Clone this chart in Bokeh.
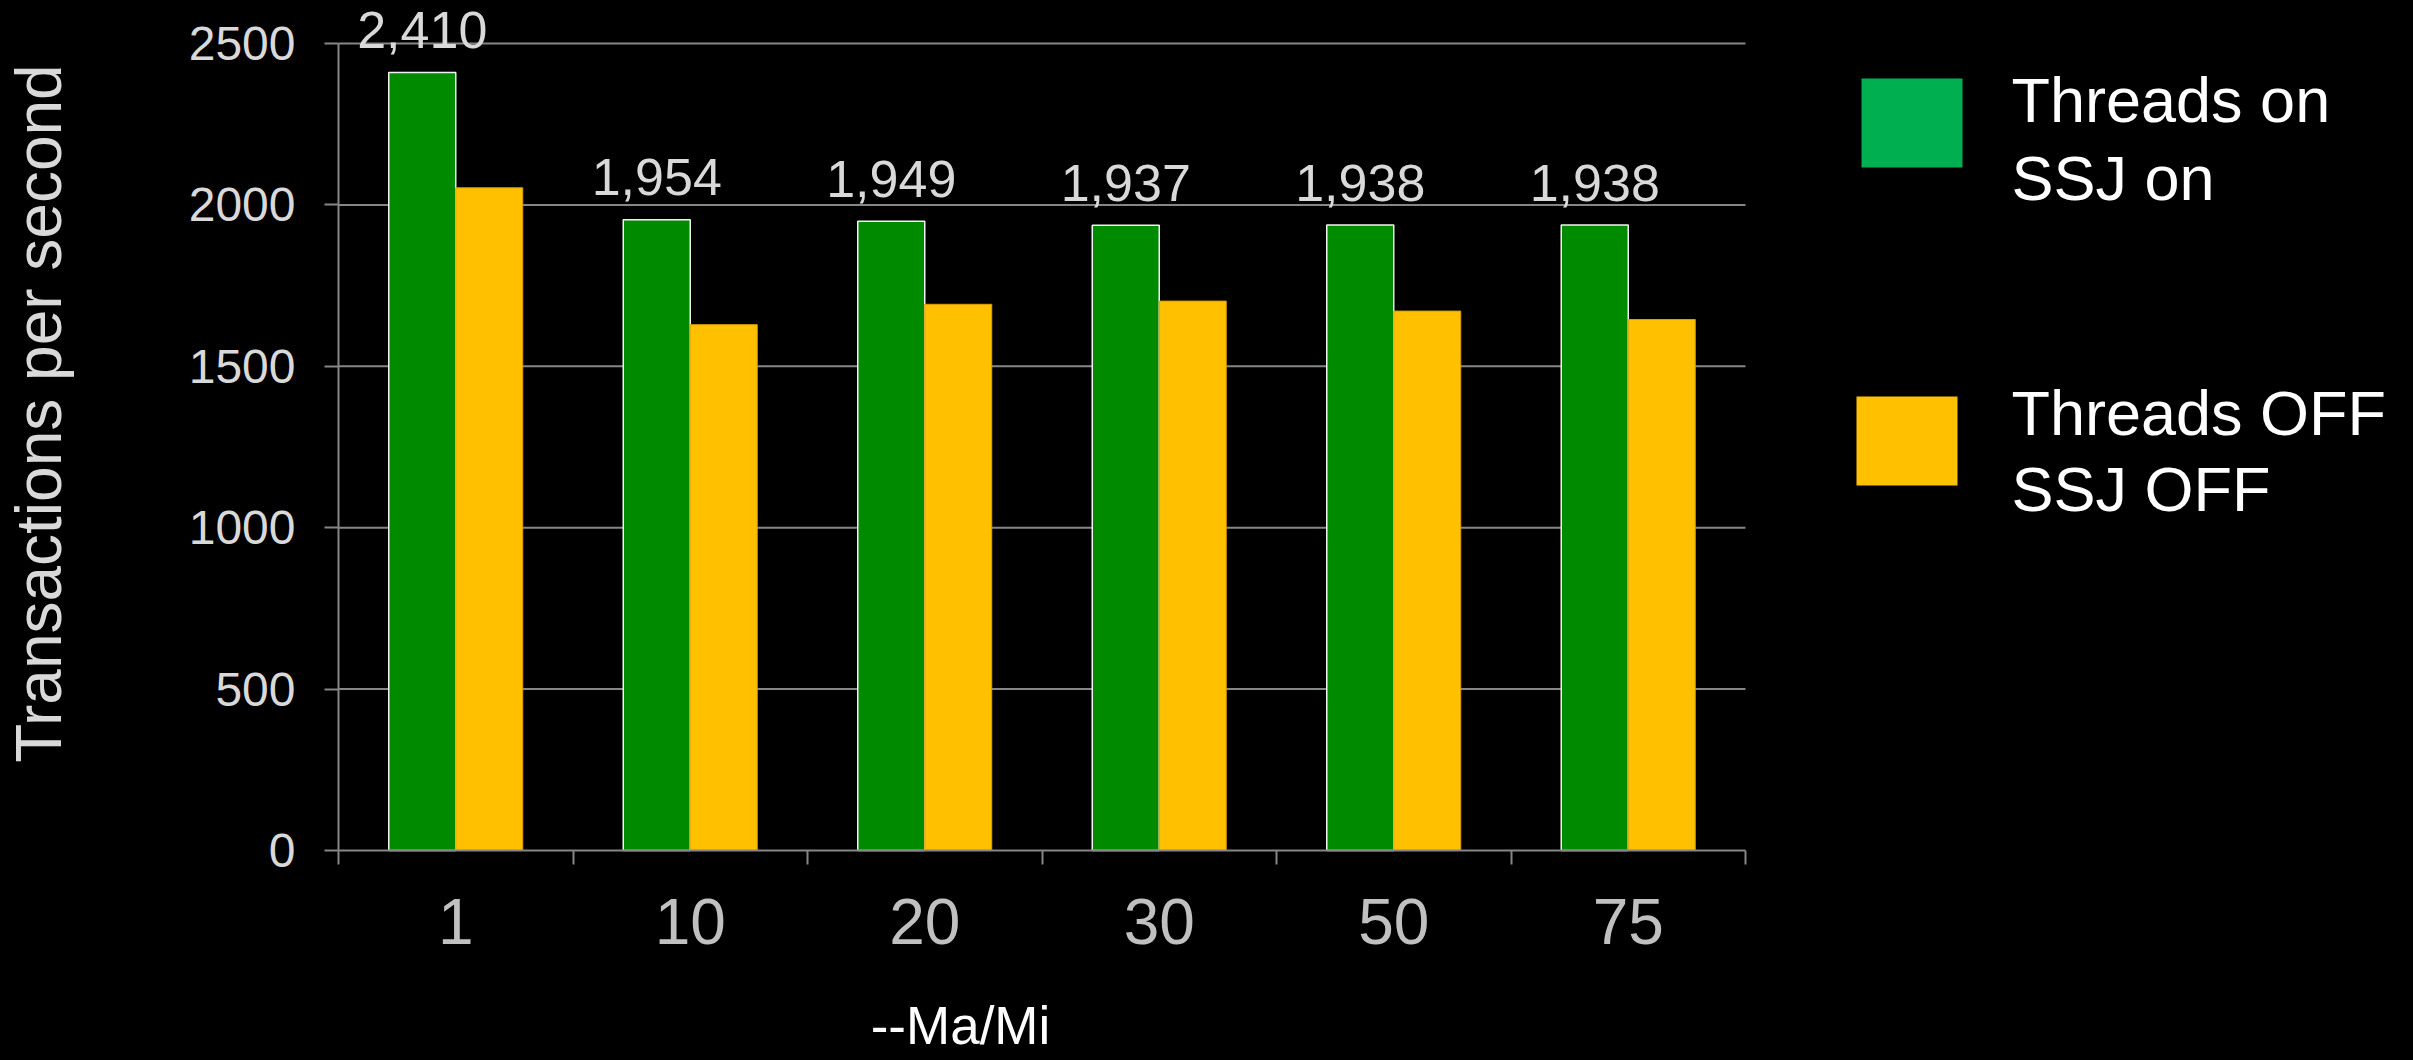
from math import pi

from bokeh.core.properties import value
from bokeh.embed import file_html
from bokeh.models import FixedTicker, Range1d
from bokeh.plotting import figure
from bokeh.resources import INLINE

# --- data -------------------------------------------------------------
categories = ["1", "10", "20", "30", "50", "75"]
threads_on = [2410, 1954, 1949, 1937, 1938, 1938]
threads_off = [2053, 1629, 1692, 1702, 1671, 1645]
y_ticks = [0, 500, 1000, 1500, 2000, 2500]
series_names = ["Threads on\nSSJ on", "Threads OFF\nSSJ OFF"]
series_colors = ["#008A00", "#FFC000"]
legend_colors = ["#00B050", "#FFC000"]
y_title = "Transactions per second"
x_title = "--Ma/Mi"

# --- layout -----------------------------------------------------------
W, H = 2413, 1060
ORIGIN_X = 338        # pixel column of the y axis
ORIGIN_Y = 850        # pixel row of the x axis
CAT_PX = 234.5        # width of one category in px
PX_PER_UNIT = 807 / 2500.0
FONT = "Liberation Sans"
GRID = "#868686"
BASE_FIX = 0.39       # em shift that puts glyph text on its alphabetic baseline

n = len(categories)


def dx(px):
    return (px - ORIGIN_X) / CAT_PX


def dy(py):
    return (ORIGIN_Y - py) / PX_PER_UNIT


# the plotting frame covers the whole canvas; axes sit at fixed data positions
p = figure(
    width=W, height=H,
    x_range=Range1d(dx(0), dx(W)), y_range=Range1d(dy(H), dy(0)),
    min_border_left=0, min_border_right=0, min_border_top=0, min_border_bottom=0,
    background_fill_color="black", border_fill_color="black",
    outline_line_color=None, toolbar_location=None, output_backend="svg",
)
p.styles = {"background-color": "black"}
p.xgrid.visible = False
p.ygrid.visible = False

# x axis: category labels at centres, tick marks at boundaries
xa = p.xaxis[0]
xa.fixed_location = 0
xa.ticker = FixedTicker(ticks=[i + 0.5 for i in range(n)], minor_ticks=list(range(n + 1)))
xa.major_label_overrides = {i + 0.5: c for i, c in enumerate(categories)}
xa.bounds = (0, n)
xa.major_tick_out = 0
xa.major_tick_in = 0
xa.minor_tick_out = 14
xa.minor_tick_in = 0
xa.minor_tick_line_color = GRID
xa.minor_tick_line_width = 2
xa.axis_line_color = GRID
xa.axis_line_width = 2
xa.major_label_text_font = FONT
xa.major_label_text_font_size = "64px"
xa.major_label_text_color = "#C0C0C0"
xa.major_label_standoff = 34

ya = p.yaxis[0]
ya.fixed_location = 0
ya.ticker = FixedTicker(ticks=y_ticks, minor_ticks=[])
ya.bounds = (y_ticks[0], y_ticks[-1])
ya.major_tick_out = 14
ya.major_tick_in = 0
ya.major_tick_line_color = GRID
ya.major_tick_line_width = 2
ya.axis_line_color = GRID
ya.axis_line_width = 2
ya.major_label_text_font = FONT
ya.major_label_text_font_size = "48px"
ya.major_label_text_color = "#D9D9D9"
ya.major_label_standoff = 29

# horizontal grid lines across the category area only
grid_vals = y_ticks[1:]
p.segment(x0=[0] * len(grid_vals), y0=grid_vals, x1=[n] * len(grid_vals), y1=grid_vals,
          line_color=GRID, line_width=2, level="underlay")

# bars
bar_w = 0.2857
green_x = [i + 0.5 - bar_w / 2 for i in range(n)]
yellow_x = [i + 0.5 + bar_w / 2 for i in range(n)]
p.vbar(x=green_x, top=threads_on, bottom=0, width=bar_w,
       fill_color=series_colors[0], line_color="#F2F2F2", line_width=1.5)
p.vbar(x=yellow_x, top=threads_off, bottom=0, width=bar_w,
       fill_color=series_colors[1], line_color="#D9A000", line_width=1)

# value labels above the green bars
p.text(x=green_x, y=threads_on, text=[f"{v:,}" for v in threads_on],
       text_align="center", text_baseline="alphabetic", y_offset=-(22 + BASE_FIX * 52),
       text_font=value(FONT), text_font_size="52px", text_color="#D9D9D9")

# legend
p.quad(left=[dx(1861), dx(1856)], right=[dx(1962), dx(1957)],
       top=[dy(78), dy(396)], bottom=[dy(167), dy(485)],
       fill_color=legend_colors, line_color=None)
legend_lines = []
for name in series_names:
    legend_lines.extend(name.split("\n"))
p.text(x=[dx(2011)] * len(legend_lines), y=[dy(b) for b in (124, 202, 437, 513)],
       text=legend_lines, text_align="left", text_baseline="alphabetic",
       y_offset=-BASE_FIX * 63,
       text_font=value(FONT), text_font_size="63px", text_color="white")

# axis titles
p.text(x=[dx(63)], y=[dy(413)], text=[y_title], angle=pi / 2,
       text_align="center", text_baseline="alphabetic", x_offset=-BASE_FIX * 64,
       text_font=value(FONT), text_font_size="64px", text_color="#D9D9D9")
p.text(x=[dx(960)], y=[dy(1046)], text=[x_title],
       text_align="center", text_baseline="alphabetic", y_offset=-BASE_FIX * 53,
       text_font=value(FONT), text_font_size="53px", text_color="white")

open("out.html", "w").write(file_html(p, INLINE))
